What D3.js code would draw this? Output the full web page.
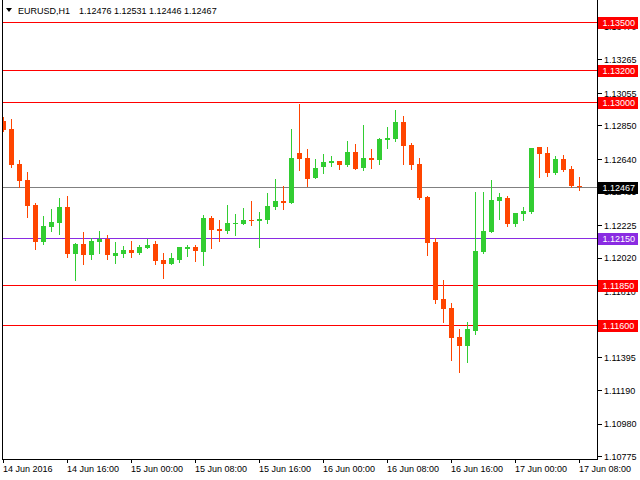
<!DOCTYPE html>
<html>
<head>
<meta charset="utf-8">
<script src="https://cdn.jsdelivr.net/npm/d3@7"></script>
<style>
  body { margin: 0; background: #fff; }
  svg text { font-family: "Liberation Sans", Arial, sans-serif; font-size: 9px; fill: #000; }
  .crisp { shape-rendering: crispEdges; }
</style>
</head>
<body>
<div id="chart"></div>
<script>
// Chart data (EURUSD H1, one bar per hour from 14 Jun 2016 08:00)
const symbol = 'EURUSD,H1';
const firstBar = new Date(Date.UTC(2016, 5, 14, 8));
const lastBar = new Date(Date.UTC(2016, 5, 17, 8));

const open = [1.12883, 1.12831, 1.12611, 1.12511, 1.12354, 1.12124, 1.12218, 1.12243, 1.12341, 1.12048,
  1.12109, 1.12042, 1.12124, 1.12141, 1.12036, 1.12048, 1.12072, 1.12055, 1.12086, 1.12109,
  1.12009, 1.11986, 1.12009, 1.12078, 1.12090, 1.12059, 1.12272, 1.12203, 1.12193, 1.12237,
  1.12237, 1.12260, 1.12255, 1.12262, 1.12343, 1.12379, 1.12368, 1.12680, 1.12649, 1.12525,
  1.12594, 1.12619, 1.12630, 1.12607, 1.12686, 1.12588, 1.12649, 1.12638, 1.12762, 1.12768,
  1.12875, 1.12730, 1.12611, 1.12404, 1.12122, 1.11764, 1.11708, 1.11526, 1.11471, 1.11565,
  1.12059, 1.12186, 1.12381, 1.12398, 1.12237, 1.12299, 1.12312, 1.12718, 1.12680, 1.12556,
  1.12642, 1.12580, 1.12476];
const high = [1.12908, 1.12893, 1.12636, 1.12563, 1.12366, 1.12285, 1.12329, 1.12398, 1.12410, 1.12115,
  1.12184, 1.12149, 1.12191, 1.12166, 1.12122, 1.12097, 1.12128, 1.12103, 1.12141, 1.12128,
  1.12053, 1.12053, 1.12090, 1.12103, 1.12103, 1.12291, 1.12285, 1.12260, 1.12354, 1.12297,
  1.12335, 1.12379, 1.12310, 1.12429, 1.12517, 1.12473, 1.12831, 1.12988, 1.12705, 1.12642,
  1.12674, 1.12661, 1.12630, 1.12755, 1.12737, 1.12856, 1.12705, 1.12774, 1.12843, 1.12950,
  1.12912, 1.12743, 1.12649, 1.12410, 1.12147, 1.11883, 1.11739, 1.11578, 1.11620, 1.12435,
  1.12435, 1.12511, 1.12429, 1.12410, 1.12304, 1.12341, 1.12711, 1.12718, 1.12718, 1.12661,
  1.12668, 1.12599, 1.12531];
const low = [1.12820, 1.12594, 1.12465, 1.12280, 1.12080, 1.12109, 1.12193, 1.12174, 1.12030, 1.11885,
  1.11986, 1.12017, 1.12055, 1.12017, 1.11992, 1.12030, 1.12030, 1.12048, 1.12086, 1.11986,
  1.11898, 1.11986, 1.11996, 1.12036, 1.12004, 1.11979, 1.12086, 1.12130, 1.12180, 1.12168,
  1.12237, 1.12230, 1.12092, 1.12243, 1.12331, 1.12331, 1.12368, 1.12575, 1.12475, 1.12525,
  1.12556, 1.12600, 1.12582, 1.12600, 1.12578, 1.12575, 1.12588, 1.12613, 1.12711, 1.12755,
  1.12613, 1.12582, 1.12393, 1.12042, 1.11741, 1.11622, 1.11383, 1.11308, 1.11371, 1.11546,
  1.12053, 1.12186, 1.12268, 1.12224, 1.12224, 1.12262, 1.12305, 1.12531, 1.12538, 1.12550,
  1.12569, 1.12467, 1.12446];
const close = [1.12824, 1.12607, 1.12506, 1.12349, 1.12124, 1.12222, 1.12247, 1.12341, 1.12048, 1.12109,
  1.12042, 1.12128, 1.12141, 1.12042, 1.12053, 1.12072, 1.12055, 1.12090, 1.12103, 1.12004,
  1.11986, 1.12021, 1.12090, 1.12090, 1.12065, 1.12272, 1.12199, 1.12193, 1.12241, 1.12241,
  1.12260, 1.12255, 1.12266, 1.12348, 1.12379, 1.12368, 1.12649, 1.12644, 1.12519, 1.12586,
  1.12624, 1.12630, 1.12607, 1.12686, 1.12582, 1.12649, 1.12638, 1.12768, 1.12774, 1.12875,
  1.12726, 1.12607, 1.12400, 1.12117, 1.11760, 1.11703, 1.11521, 1.11471, 1.11576, 1.12065,
  1.12191, 1.12385, 1.12404, 1.12237, 1.12304, 1.12316, 1.12711, 1.12676, 1.12556, 1.12642,
  1.12575, 1.12476, 1.12467];

const priceTicks = [1.13470, 1.13265, 1.13055, 1.12850, 1.12640, 1.12435, 1.12225, 1.12020,
  1.11810, 1.11605, 1.11395, 1.11190, 1.10980, 1.10775];
const timeLabels = ['14 Jun 2016', '14 Jun 16:00', '15 Jun 00:00', '15 Jun 08:00', '15 Jun 16:00',
  '16 Jun 00:00', '16 Jun 08:00', '16 Jun 16:00', '17 Jun 00:00', '17 Jun 08:00'];

const redLevels = [1.13500, 1.13200, 1.13000, 1.11850, 1.11600];
const purpleLevel = 1.12150;
const bidPrice = 1.12467;

const width = 640;
const height = 480;
const plot = { left: 2.5, right: 597.5, bottom: 459.5 };

const bars = open.map((o, i) => ({
  time: d3.utcHour.offset(firstBar, i),
  open: o, high: high[i], low: low[i], close: close[i]
}));

const svg = d3.select('#chart').append('svg')
  .attr('width', width)
  .attr('height', height);

const x = d3.scaleUtc().domain([firstBar, lastBar]).range([3.5, 579.5]);
const y = d3.scaleLinear().domain([1.10775, 1.13640]).range([456.7, 0]);
const py = (v) => Math.round(y(v)) + 0.5;

svg.append('clipPath').attr('id', 'plot-clip')
  .append('rect').attr('x', 3).attr('y', 0).attr('width', 594).attr('height', 459);

// Price axis on the right
const yAxis = svg.append('g')
  .attr('class', 'crisp')
  .attr('transform', `translate(${plot.right + 0.5},0)`)
  .call(d3.axisRight(y).tickValues(priceTicks).tickSize(4).tickPadding(2)
    .tickFormat(d3.format('.5f')).offset(0));
yAxis.select('.domain').remove();
yAxis.selectAll('line').attr('stroke', '#000');
yAxis.selectAll('text').attr('fill', '#000').attr('dy', '0.36em');

// Time axis at the bottom
const xAxis = svg.append('g')
  .attr('class', 'crisp')
  .attr('transform', `translate(0,${plot.bottom - 0.5})`)
  .call(d3.axisBottom(x).tickValues(d3.utcHour.every(8).range(firstBar, d3.utcHour.offset(lastBar, 1)))
    .tickSize(4).tickPadding(3).tickFormat((d, i) => timeLabels[i]).offset(0));
xAxis.select('.domain').remove();
xAxis.selectAll('line').attr('stroke', '#000');
xAxis.selectAll('text').attr('fill', '#000').attr('text-anchor', 'start').attr('dx', '-0.5');

// Horizontal levels
const levels = svg.append('g').attr('class', 'crisp').attr('clip-path', 'url(#plot-clip)');
levels.selectAll('line.red').data(redLevels).join('line')
  .attr('class', 'red')
  .attr('x1', 3).attr('x2', plot.right)
  .attr('y1', (d) => py(d)).attr('y2', (d) => py(d))
  .attr('stroke', '#ff0000');
levels.append('line')
  .attr('x1', 3).attr('x2', plot.right)
  .attr('y1', py(purpleLevel)).attr('y2', py(purpleLevel))
  .attr('stroke', '#8a2be2');
levels.append('line')
  .attr('x1', 3).attr('x2', plot.right)
  .attr('y1', py(bidPrice)).attr('y2', py(bidPrice))
  .attr('stroke', '#808080');

// Candles
const candles = svg.append('g').attr('class', 'crisp').attr('clip-path', 'url(#plot-clip)');
const colorOf = (d) => (d.close > d.open ? '#32cd32' : '#ff4500');
candles.selectAll('line.wick').data(bars).join('line')
  .attr('class', 'wick')
  .attr('x1', (d) => x(d.time)).attr('x2', (d) => x(d.time))
  .attr('y1', (d) => Math.round(y(d.high))).attr('y2', (d) => Math.round(y(d.low)) + 1)
  .attr('stroke', colorOf);
candles.selectAll('rect.body').data(bars).join('rect')
  .attr('class', 'body')
  .attr('x', (d) => x(d.time) - 2.5)
  .attr('width', 5)
  .attr('y', (d) => Math.round(y(Math.max(d.open, d.close))))
  .attr('height', (d) => Math.max(1, Math.round(y(Math.min(d.open, d.close))) - Math.round(y(Math.max(d.open, d.close)))))
  .attr('fill', colorOf);

// Frame
svg.append('path')
  .attr('class', 'crisp')
  .attr('d', `M${plot.left},0V${plot.bottom}H${plot.right}V0`)
  .attr('fill', 'none')
  .attr('stroke', '#000');

// Level labels on the price scale
const tags = [
  ...redLevels.map((v) => ({ value: v, fill: '#ff0000' })),
  { value: purpleLevel, fill: '#8a2be2' },
  { value: bidPrice, fill: '#000000' }
];
const tag = svg.append('g').selectAll('g').data(tags).join('g')
  .attr('transform', (d) => `translate(598,${Math.round(y(d.value))})`);
tag.append('rect')
  .attr('class', 'crisp')
  .attr('x', 0).attr('y', -5).attr('width', 40).attr('height', 12)
  .attr('fill', (d) => d.fill);
tag.append('text')
  .attr('x', 4.5).attr('y', 1).attr('dy', '0.36em')
  .style('fill', '#fff')
  .text((d) => d3.format('.5f')(d.value));

// Title
svg.append('path').attr('d', 'M6,8H12L9,12Z').attr('fill', '#000');
svg.append('text').attr('x', 18).attr('y', 13.5).text(symbol);
svg.append('text').attr('x', 79).attr('y', 13.5)
  .text([open, high, low, close].map((s) => s[s.length - 1].toFixed(5)).join(' '));
</script>
</body>
</html>
